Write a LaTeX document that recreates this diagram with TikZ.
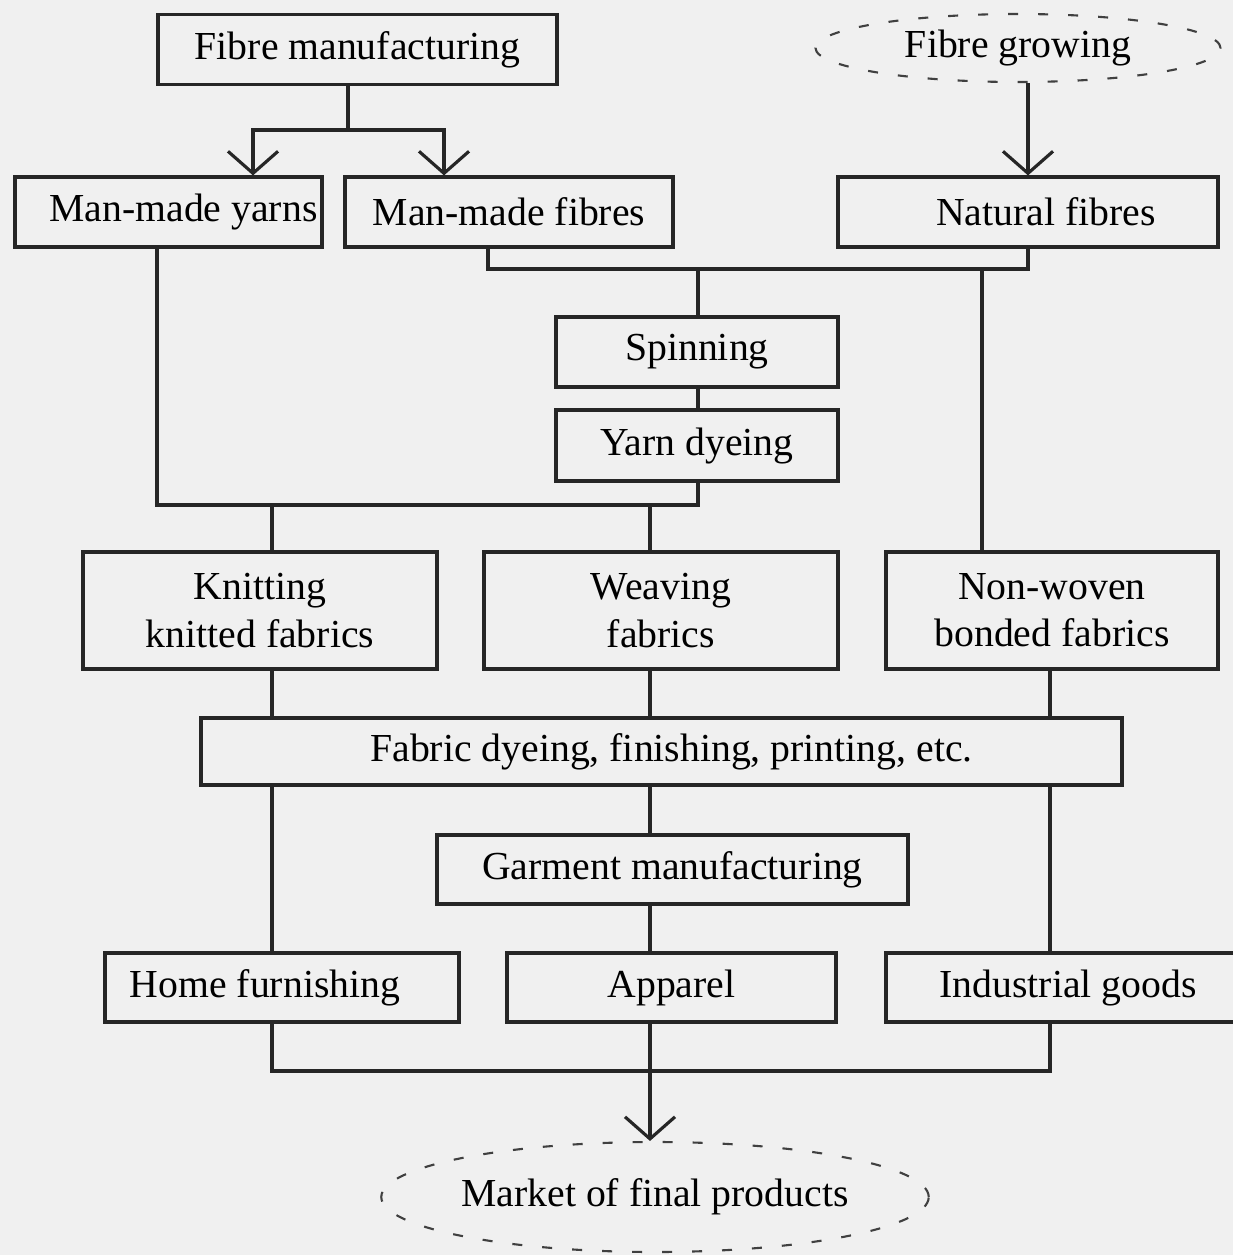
\documentclass[tikz,border=0pt]{standalone}
\usepackage{fontspec}
\setmainfont{Liberation Serif}
\usetikzlibrary{shapes.geometric,arrows.meta}

\begin{document}
\begin{tikzpicture}[
    font=\fontsize{11.3}{13.4}\selectfont,
    line width=0.9pt, draw=black!85,
    box/.style={draw, rectangle, inner sep=0pt, minimum height=0.70cm},
    tallbox/.style={box, minimum height=1.17cm, align=center},
    cloud/.style={draw=black!75, ellipse, dash pattern=on 0.1cm off 0.2cm, line width=0.6pt, inner sep=0pt},
    arr/.style={-{Straight Barb[length=0.22cm,width=0.5cm]}}
]
% Page
\clip (0,0) rectangle (12.33,-12.55);
\fill[black!6] (0,0) rectangle (12.33,-12.55);

% Sources
\node[box, minimum width=3.99cm] (fman) at (3.575,-0.495) {Fibre manufacturing};
\node[cloud, minimum width=4.05cm, minimum height=0.68cm] (fgrow) at (10.18,-0.48) {Fibre growing};

% Fibres and yarns
\node[box, minimum width=3.07cm] (myarn) at (1.685,-2.12) {\hspace*{0.3cm}Man-made yarns};
\node[box, minimum width=3.28cm] (mfib) at (5.09,-2.12) {Man-made fibres};
\node[box, minimum width=3.80cm] (natf) at (10.28,-2.12) {\hspace*{0.36cm}Natural fibres};
\node[box, minimum width=2.82cm] (spin) at (6.97,-3.52) {Spinning};
\node[box, minimum width=2.82cm, minimum height=0.71cm] (ydye) at (6.97,-4.455) {Yarn dyeing};

% Fabrics
\node[tallbox, minimum width=3.54cm] (knit) at (2.60,-6.105) {Knitting\\knitted fabrics};
\node[tallbox, minimum width=3.54cm] (weave) at (6.61,-6.105) {Weaving\\fabrics};
\node[tallbox, minimum width=3.32cm] (nonw) at (10.52,-6.105) {Non-woven\\bonded fabrics};
\node[box, minimum width=9.21cm, minimum height=0.67cm] (fdye) at (6.615,-7.515) {\hspace*{0.2cm}Fabric dyeing, finishing, printing, etc.};
\node[box, minimum width=4.71cm, minimum height=0.69cm] (garm) at (6.725,-8.695) {Garment manufacturing};

% End uses
\node[box, minimum width=3.54cm, minimum height=0.69cm] (home) at (2.82,-9.875) {Home furnishing\hspace*{0.34cm}};
\node[box, minimum width=3.29cm, minimum height=0.69cm] (app) at (6.715,-9.875) {Apparel};
\node[box, minimum width=3.64cm, minimum height=0.69cm] (ind) at (10.68,-9.875) {Industrial goods};
\node[cloud, minimum width=5.30cm, minimum height=1.10cm] (market) at (6.55,-11.97) {Market of final products};

% Junctions and columns
\coordinate (jtop) at (3.48,-1.30);
\coordinate (jmid) at (6.98,-2.69);
\coordinate (jyarn) at (6.98,-5.05);
\coordinate (jbot) at (6.50,-10.71);
\coordinate (colL) at (1.57,0);
\coordinate (colY) at (2.53,0);
\coordinate (colF) at (4.44,0);
\coordinate (colM) at (4.88,0);
\coordinate (colN) at (9.82,0);
\coordinate (colA) at (2.72,0);
\coordinate (colB) at (6.50,0);
\coordinate (colC) at (10.50,0);

% Top connectors
\draw (fman.south -| jtop) -- (jtop);
\draw[arr] (jtop) -| (myarn.north -| colY);
\draw[arr] (jtop) -| (mfib.north -| colF);
\draw[arr] (fgrow.south -| natf.north) -- (natf.north);

% Fibres to spinning and non-woven
\draw (mfib.south -| colM) |- (jmid) -| (natf.south);
\draw (jmid) -- (spin.north -| jmid);
\draw (jmid -| colN) -- (nonw.north -| colN);
\draw (spin.south -| jmid) -- (ydye.north -| jmid);

% Yarns to fabrics
\draw (myarn.south -| colL) |- (jyarn) -- (ydye.south -| jyarn);
\draw (jyarn -| colA) -- (knit.north -| colA);
\draw (jyarn -| colB) -- (weave.north -| colB);

% Fabrics to finishing
\draw (knit.south -| colA) -- (fdye.north -| colA);
\draw (weave.south -| colB) -- (fdye.north -| colB);
\draw (nonw.south -| colC) -- (fdye.north -| colC);

% Finishing to end uses
\draw (fdye.south -| colA) -- (home.north -| colA);
\draw (fdye.south -| colB) -- (garm.north -| colB);
\draw (garm.south -| colB) -- (app.north -| colB);
\draw (fdye.south -| colC) -- (ind.north -| colC);

% End uses to market
\draw (home.south -| colA) |- (jbot) -| (ind.south -| colC);
\draw (app.south -| colB) -- (jbot);
\draw[arr] (jbot) -- (market.north -| jbot);
\end{tikzpicture}
\end{document}
